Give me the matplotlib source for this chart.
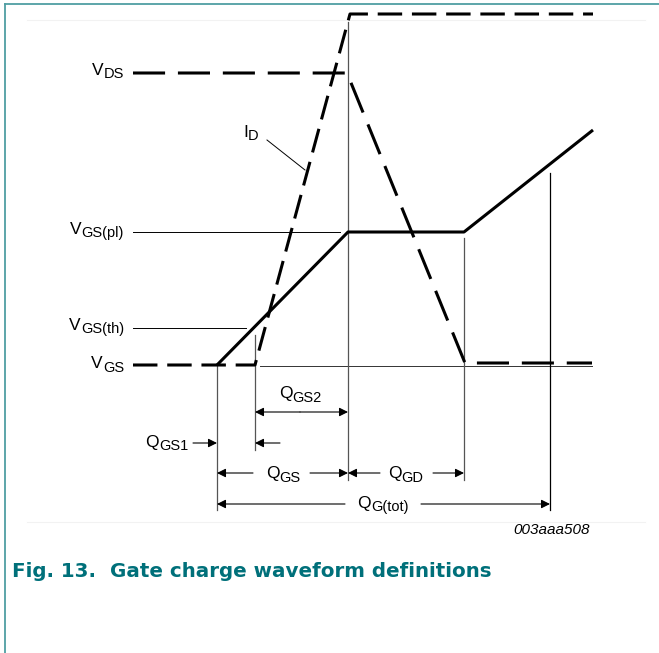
import matplotlib
matplotlib.use("Agg")
import matplotlib.pyplot as plt

plt.rcParams["font.family"] = ["Liberation Sans", "DejaVu Sans"]

# waveform vertices (charge axis -> x, level -> y, image-style units)
vgs_q = [217, 348, 464, 593]
vgs_v = [365, 232, 232, 130]
id_q = [133, 255, 350, 593]
id_v = [365, 365, 14, 14]
vds_q = [133, 347, 465, 592]
vds_v = [73, 73, 363, 363]

# level labels: main, subscript, level
level_labels = [("V", "DS", 73), ("V", "GS(pl)", 232), ("V", "GS(th)", 328), ("V", "GS", 366)]
q_marks = [217, 255, 348, 464, 550]

TEAL = "#00707a"
BORDER = "#4f9ea3"
MAIN_FS = 12.5
SUB_FS = 10.5

fig = plt.figure(figsize=(6.59, 6.53), dpi=100)
ax = fig.add_axes([0, 0, 1, 1])
ax.set_xlim(0, 659)
ax.set_ylim(653, 0)
ax.axis("off")
renderer = fig.canvas.get_renderer()


def sublabel(x, y, main, sub, ha="left"):
    # main letter plus a large subscript, anchored at baseline y
    t1 = ax.text(x, y, main, fontsize=MAIN_FS, va="baseline", ha="left")
    w1 = t1.get_window_extent(renderer).width
    t2 = ax.text(x + w1, y + 3.5, sub, fontsize=SUB_FS, va="baseline", ha="left")
    w2 = t2.get_window_extent(renderer).width
    shift = {"left": 0, "center": -(w1 + w2) / 2, "right": -(w1 + w2)}[ha]
    t1.set_x(x + shift)
    t2.set_x(x + w1 + shift)


# frame
ax.plot([5, 5], [4, 653], color=BORDER, lw=1.3)
ax.plot([5, 659], [4, 4], color=BORDER, lw=1.3)
ax.plot([27, 645], [20, 20], color="#f2f2f2", lw=0.8)
ax.plot([27, 645], [522, 522], color="#f2f2f2", lw=0.8)

# thin reference lines
ax.plot([133, 340], [232, 232], color="black", lw=0.7)
ax.plot([133, 246], [328, 328], color="black", lw=0.7)
ax.plot([260, 592], [366, 366], color="#333333", lw=0.7)

# vertical markers
ax.plot([q_marks[0]] * 2, [366, 510], color="#555555", lw=0.9)
ax.plot([q_marks[1]] * 2, [335, 450], color="#555555", lw=0.9)
ax.plot([q_marks[2]] * 2, [22, 480], color="#555555", lw=0.9)
ax.plot([q_marks[3]] * 2, [238, 480], color="#555555", lw=0.9)
ax.plot([q_marks[4]] * 2, [173, 510], color="black", lw=0.9)

# waveforms
ax.plot(vds_q, vds_v, color="black", lw=2.2, dashes=(10.5, 4.2))
ax.plot(id_q, id_v, color="black", lw=2.2, dashes=(8, 3.2))
ax.plot(vgs_q, vgs_v, color="black", lw=2.2, solid_capstyle="butt")

for main, sub, y in level_labels:
    sublabel(124, y + 2, main, sub, ha="right")

sublabel(243, 137, "I", "D")
ax.plot([267, 305], [140, 170], color="black", lw=0.7)

# dimension arrows
ap = dict(arrowstyle="-|>", color="black", lw=0.8, mutation_scale=13,
          shrinkA=0, shrinkB=0)


def arrow(x0, x1, y):
    ax.annotate("", xy=(x1, y), xytext=(x0, y), arrowprops=ap)


# Q_GS2
arrow(300, 255, 412)
arrow(300, 348, 412)
sublabel(300, 398, "Q", "GS2", ha="center")

# Q_GS1
arrow(193, 217, 443)
arrow(280, 255, 443)
sublabel(188, 447, "Q", "GS1", ha="right")

# Q_GS
arrow(253, 217, 473)
arrow(310, 348, 473)
sublabel(283, 478, "Q", "GS", ha="center")

# Q_GD
arrow(380, 348, 473)
arrow(433, 464, 473)
sublabel(406, 478, "Q", "GD", ha="center")

# Q_G(tot)
arrow(345, 217, 504)
arrow(421, 550, 504)
sublabel(383, 508, "Q", "G(tot)", ha="center")

ax.text(552, 530, "003aaa508", ha="center", va="center", fontsize=11,
        style="italic")

# caption
ax.text(12, 577, "Fig. 13.", ha="left", va="baseline", fontsize=14.3,
        fontweight="bold", color=TEAL, family="DejaVu Sans")
ax.text(110, 577, "Gate charge waveform definitions", ha="left", va="baseline",
        fontsize=14.3, fontweight="bold", color=TEAL, family="DejaVu Sans")

fig.savefig("out.png", dpi=100)
